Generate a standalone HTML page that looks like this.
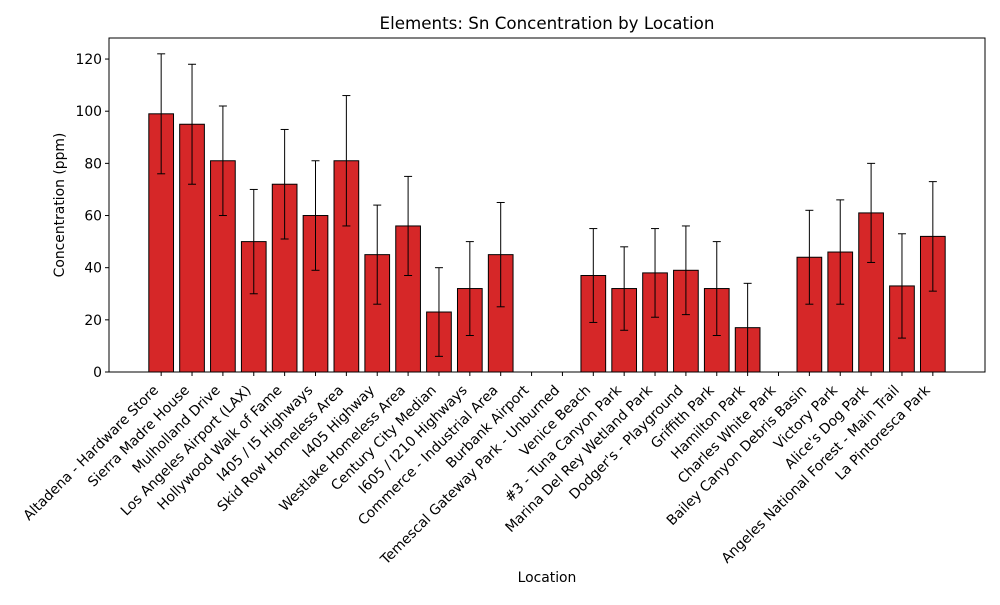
<!DOCTYPE html>
<html><head><meta charset="utf-8"><style>
body{margin:0;background:#fff}
svg{font-family:"DejaVu Sans","Liberation Sans",sans-serif}
</style></head><body>
<svg id="c" width="1000" height="600"></svg>
<script>
const categories=["Altadena - Hardware Store","Sierra Madre House","Mulholland Drive","Los Angeles Airport (LAX)","Hollywood Walk of Fame","I405 / I5 Highways","Skid Row Homeless Area","I405 Highway","Westlake Homeless Area","Century City Median","I605 / I210 Highways","Commerce - Industrial Area","Burbank Airport","Temescal Gateway Park - Unburned","Venice Beach","#3 - Tuna Canyon Park","Marina Del Rey Wetland Park","Dodger's - Playground","Griffith Park","Hamilton Park","Charles White Park","Bailey Canyon Debris Basin","Victory Park","Alice's Dog Park","Angeles National Forest - Main Trail","La Pintoresca Park"];
const values=[99,95,81,50,72,60,81,45,56,23,32,45,0,0,37,32,38,39,32,17,0,44,46,61,33,52];
const errors=[23,23,21,20,21,21,25,19,19,17,18,20,0,0,18,16,17,17,18,17,0,18,20,19,20,21];
const yTicks=[0,20,40,60,80,100,120];
const NS="http://www.w3.org/2000/svg";
const svg=document.getElementById('c');
const L=109,R=985,T=38,B=372;
const xMin=-1.69,xMax=categories.length-1+1.69,yMax=128.07;
const xs=i=>L+(i-xMin)/(xMax-xMin)*(R-L);
const ys=v=>B-v/yMax*(B-T);
function mk(t,a){const e=document.createElementNS(NS,t);for(const k in a)e.setAttribute(k,a[k]);svg.appendChild(e);return e;}
const bw=0.8*(R-L)/(xMax-xMin);
const FS=13.9;
values.forEach((v,i)=>{
  const x=xs(i);
  const r=mk('rect',{x:x-bw/2,y:ys(v),width:bw,height:B-ys(v),fill:'#d62728',stroke:'#000','stroke-width':1});
  
  
  if(errors[i]>0){
    const g=mk('g',{stroke:'#000','stroke-width':1});
    
    
    const lo=ys(Math.max(0,v-errors[i])),hi=ys(v+errors[i]);
    [[x,hi,x,lo],[x-4,hi,x+4,hi],[x-4,ys(v-errors[i]),x+4,ys(v-errors[i])]].forEach(p=>{
      const l=document.createElementNS(NS,'line');
      l.setAttribute('x1',p[0]);l.setAttribute('y1',p[1]);l.setAttribute('x2',p[2]);l.setAttribute('y2',p[3]);g.appendChild(l);});
  }
  mk('line',{x1:x,y1:B,x2:x,y2:B+4,stroke:'#000'});
  const t=mk('text',{x:x-2,y:391,'text-anchor':'end','font-size':FS,transform:`rotate(-45 ${x-2} 391)`});
  t.textContent=categories[i];
  
  
});
yTicks.forEach(v=>{
  mk('line',{x1:L-4,y1:ys(v),x2:L,y2:ys(v),stroke:'#000'});
  const t=mk('text',{x:L-7,y:ys(v)+5,'text-anchor':'end','font-size':FS});
  t.textContent=v;
  
  
});
const f=mk('rect',{x:L,y:T,width:R-L,height:B-T,fill:'none',stroke:'#000','stroke-width':1});


const ti=mk('text',{x:(L+R)/2,y:29,'text-anchor':'middle','font-size':16.7});
ti.textContent='Elements: Sn Concentration by Location';


const xl=mk('text',{x:(L+R)/2,y:582,'text-anchor':'middle','font-size':FS});
xl.textContent='Location';


const yl=mk('text',{x:64,y:(T+B)/2,'text-anchor':'middle','font-size':FS,transform:`rotate(-90 64 ${(T+B)/2})`});
yl.textContent='Concentration (ppm)';


</script>
</body></html>
